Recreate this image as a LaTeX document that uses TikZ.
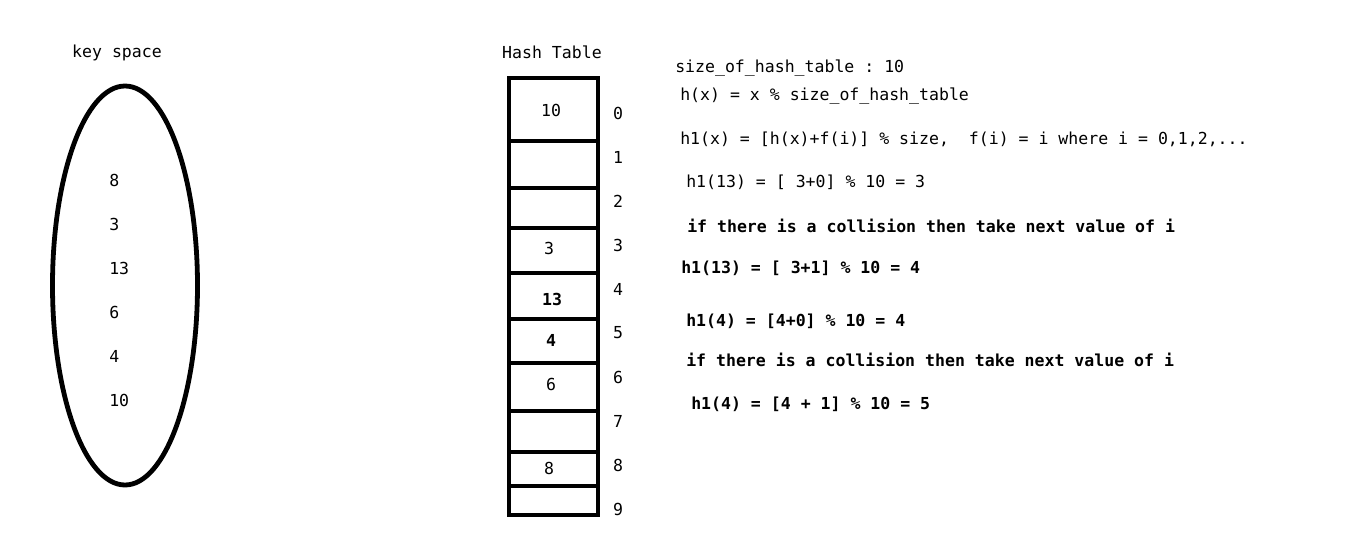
\documentclass[tikz,border=0pt]{standalone}
\usepackage{fontspec}
\setmonofont{DejaVu Sans Mono}
\usetikzlibrary{positioning}

\tikzset{
  txt/.style={font=\ttfamily\fontsize{12.4}{15}\selectfont, inner sep=0pt},
  btxt/.style={txt, font=\ttfamily\bfseries\fontsize{12.4}{15}\selectfont},
  thickline/.style={line width=3pt}
}

\begin{document}
\begin{tikzpicture}[x=0.75pt,y=-0.75pt]
\useasboundingbox (0,0) rectangle (1354,553);

% key space
\node[txt] (ks) at (117,53) {key space};
\draw[line width=3.6pt] (125,285.5) ellipse [x radius=72.5, y radius=199.5];
\foreach \k/\y in {8/180,3/224,13/268,6/312,4/356,10/400}
  \node[txt, anchor=west] (k\k) at (109,\y) {\k};

% hash table
\node[txt] (ht) at (552,52) {Hash Table};
\coordinate (T) at (509,78);
\coordinate (B) at (598,515);
\draw[thickline] (T) rectangle (B);
\foreach \y in {141,188,228,273,319,363,411,452,486}
  \draw[thickline] (509,\y) -- (600,\y);

\node[txt] (v0) at (551,110) {10};
\node[txt] (v3) at (549,248) {3};
\node[btxt] (v4) at (552,299) {13};
\node[btxt] (v5) at (551,340) {4};
\node[txt] (v6) at (551,384) {6};
\node[txt] (v8) at (549,468) {8};

\foreach \i in {0,...,9}
  \node[txt] (i\i) at (618,113+44*\i) {\i};

% formulas
\node[txt, anchor=west] (size) at (675,68) {size\_of\_hash\_table : 10};
\node[txt, anchor=west] (hx) at (680,96) {h(x) = x \% size\_of\_hash\_table};
\node[txt, anchor=west] (h1x) at (680,139) {h1(x) = [h(x)+f(i)] \% size,~ f(i) = i where i = 0,1,2,...};
\node[txt, anchor=west] (a1) at (686,182) {h1(13) = [ 3+0] \% 10 = 3};
\node[btxt, anchor=west] (c1) at (687,226) {if there is a collision then take next value of i};
\node[btxt, anchor=west] (a2) at (681,268) {h1(13) = [ 3+1] \% 10 = 4};
\node[btxt, anchor=west] (a3) at (686,321) {h1(4) = [4+0] \% 10 = 4};
\node[btxt, anchor=west] (c2) at (686,360) {if there is a collision then take next value of i};
\node[btxt, anchor=west] (a4) at (691,404) {h1(4) = [4 + 1] \% 10 = 5};
\end{tikzpicture}
\end{document}
